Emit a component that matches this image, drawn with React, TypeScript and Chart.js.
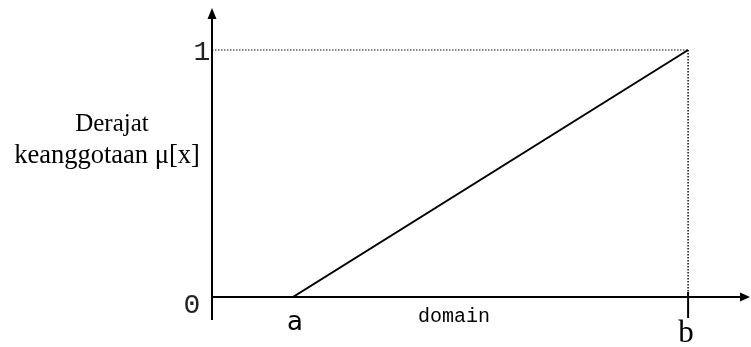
import React, { useEffect, useRef } from "react";
import { Chart, registerables } from "chart.js";

Chart.register(...registerables);

// ---- data ----
const X_A = 1.7; // point "a" on the domain
const X_B = 10; // point "b" on the domain
const X_MAX = 11.3; // end of the domain arrow
const Y_MIN = -0.093;
const Y_MAX = 1.17;

const membershipX = [0, X_A, X_B];
const membershipY = [0, 0, 1];

const yTickValues = [0, 1];
const yTickLabels = ["0", "1"];
const xTickValues = [X_A, X_B];
const xTickLabels = ["a", "b"];
const yTitleLines = ["Derajat", "keanggotaan \u03bc[x]"];
const xTitle = "domain";

const membershipData = membershipX.map((x, i) => ({ x, y: membershipY[i] }));
const guideH = [
  { x: 0, y: 1 },
  { x: X_B, y: 1 },
];
const guideV = [
  { x: X_B, y: 1 },
  { x: X_B, y: 0 },
];

const axesPlugin = {
  id: "axesPlugin",
  afterDatasetsDraw(chart: any) {
    const ctx = chart.ctx as CanvasRenderingContext2D;
    const xs = chart.scales.x;
    const ys = chart.scales.y;
    const x0 = xs.getPixelForValue(0);
    const xEnd = xs.getPixelForValue(X_MAX);
    const y0 = ys.getPixelForValue(0);
    const yTop = ys.getPixelForValue(Y_MAX);
    const yBot = ys.getPixelForValue(Y_MIN);
    ctx.save();
    ctx.strokeStyle = "#000";
    ctx.fillStyle = "#000";
    ctx.lineWidth = 2;
    // y axis
    ctx.beginPath();
    ctx.moveTo(x0, yBot);
    ctx.lineTo(x0, yTop + 8);
    ctx.stroke();
    ctx.beginPath();
    ctx.moveTo(x0, yTop);
    ctx.lineTo(x0 - 4.5, yTop + 11);
    ctx.lineTo(x0 + 4.5, yTop + 11);
    ctx.closePath();
    ctx.fill();
    // x axis
    ctx.beginPath();
    ctx.moveTo(x0, y0);
    ctx.lineTo(xEnd - 8, y0);
    ctx.stroke();
    ctx.beginPath();
    ctx.moveTo(xEnd, y0);
    ctx.lineTo(xEnd - 10, y0 - 4.5);
    ctx.lineTo(xEnd - 10, y0 + 4.5);
    ctx.closePath();
    ctx.fill();
    // tick at b
    const xb = xs.getPixelForValue(X_B);
    ctx.beginPath();
    ctx.moveTo(xb, y0 - 5);
    ctx.lineTo(xb, y0 + 21);
    ctx.stroke();

    // y tick labels
    ctx.textAlign = "center";
    ctx.textBaseline = "alphabetic";
    ctx.fillStyle = "#222";
    ctx.font = "28px 'Liberation Mono', 'DejaVu Sans Mono', monospace";
    yTickValues.forEach((v, i) => {
      const py = ys.getPixelForValue(v);
      const dx = v === 0 ? -20 : -10;
      const dy = v === 0 ? 16 : 10;
      ctx.fillText(yTickLabels[i], x0 + dx, py + dy);
    });
    ctx.fillStyle = "#000";

    // x tick labels
    xTickValues.forEach((v, i) => {
      const px = xs.getPixelForValue(v);
      if (i === 0) {
        ctx.font = "26px 'DejaVu Sans', sans-serif";
        ctx.fillText(xTickLabels[i], px + 2, y0 + 33);
      } else {
        ctx.font = "31px 'Liberation Serif', serif";
        ctx.fillText(xTickLabels[i], px - 2, y0 + 45);
      }
    });

    // x title
    ctx.font = "20px 'Liberation Mono', monospace";
    ctx.fillText(xTitle, 454, y0 + 25);

    // y title
    ctx.font = "25px 'Liberation Serif', serif";
    ctx.fillText(yTitleLines[0], 112, 131);
    ctx.font = "26.5px 'Liberation Serif', serif";
    ctx.fillText(yTitleLines[1], 107, 163);
    ctx.restore();
  },
};

export default function App() {
  const canvasRef = useRef<HTMLCanvasElement | null>(null);

  useEffect(() => {
    document.body.style.margin = "0";
    const canvas = canvasRef.current;
    if (!canvas) return;
    const chart = new Chart(canvas, {
      type: "line",
      data: {
        datasets: [
          {
            data: membershipData,
            borderColor: "#000",
            borderWidth: 2,
            pointRadius: 0,
            fill: false,
            tension: 0,
          },
          {
            data: guideH,
            borderColor: "#111",
            borderWidth: 1,
            borderDash: [1.5, 1.5],
            pointRadius: 0,
            fill: false,
          },
          {
            data: guideV,
            borderColor: "#111",
            borderWidth: 1.5,
            borderDash: [1.5, 1.5],
            pointRadius: 0,
            fill: false,
          },
        ],
      },
      options: {
        responsive: false,
        animation: false,
        devicePixelRatio: 1,
        clip: false as any,
        layout: { padding: { left: 212, right: 1, top: 8, bottom: 27 } },
        plugins: { legend: { display: false }, tooltip: { enabled: false }, title: { display: false } },
        scales: {
          x: { type: "linear", display: false, min: 0, max: X_MAX },
          y: { type: "linear", display: false, min: Y_MIN, max: Y_MAX },
        },
      },
      plugins: [axesPlugin],
    });
    return () => chart.destroy();
  }, []);

  return (
    <div style={{ width: 751, height: 347, background: "#fff" }}>
      <canvas ref={canvasRef} width={751} height={347} style={{ display: "block" }} />
    </div>
  );
}
